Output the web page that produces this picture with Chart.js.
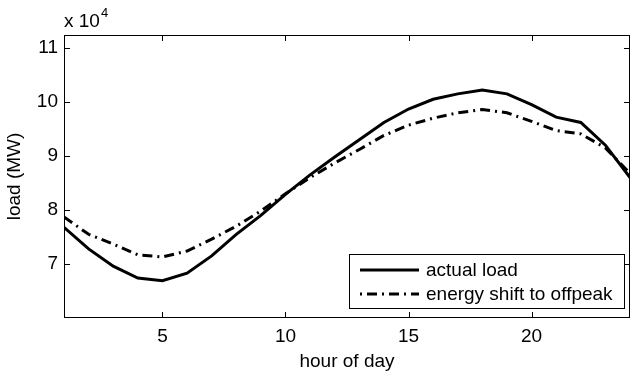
<!DOCTYPE html>
<html>
<head>
<meta charset="utf-8">
<script src="https://cdn.jsdelivr.net/npm/chart.js@4"></script>
<style>
  html, body { margin: 0; padding: 0; background: #fff; }
  #wrap { width: 631px; height: 373px; }
</style>
</head>
<body>
<div id="wrap"><canvas id="loadChart" width="631" height="373"></canvas></div>
<script>
// Data (load in MW)
const hours = [1,2,3,4,5,6,7,8,9,10,11,12,13,14,15,16,17,18,19,20,21,22,23,24];
const actualLoad = [76800,72800,69600,67400,66900,68300,71500,75500,79000,82900,86500,89800,93000,96200,98700,100500,101500,102200,101500,99500,97200,96200,92000,86000];
const shiftedLoad = [78700,75500,73700,71700,71300,72400,74600,77000,79800,83000,86000,88700,91200,93800,95700,97000,98000,98600,98000,96400,94700,94100,91500,86800];
const xTicks = [5, 10, 15, 20];
const yTicks = [70000, 80000, 90000, 100000, 110000];
const seriesNames = ['actual load', 'energy shift to offpeak'];

const FONT = 'Liberation Sans, Arial, Helvetica, sans-serif';
const DASHDOT = [10, 5, 2, 5];

// MATLAB-like frame: box, inner ticks, exponent label, legend box
const matlabFrame = {
    id: 'matlabFrame',
    afterDraw(chart) {
        const ctx = chart.ctx;
        const a = chart.chartArea;
        const xs = chart.scales.x, ys = chart.scales.y;
        ctx.save();
        ctx.strokeStyle = '#000';
        ctx.lineWidth = 1;
        ctx.strokeRect(a.left + 0.5, a.top + 0.5, a.right - a.left - 1, a.bottom - a.top - 1);
        ctx.beginPath();
        xTicks.forEach(v => {
            const px = Math.round(xs.getPixelForValue(v)) + 0.5;
            ctx.moveTo(px, a.bottom); ctx.lineTo(px, a.bottom - 6);
            ctx.moveTo(px, a.top); ctx.lineTo(px, a.top + 6);
        });
        yTicks.forEach(v => {
            const py = Math.round(ys.getPixelForValue(v)) + 0.5;
            ctx.moveTo(a.left, py); ctx.lineTo(a.left + 6, py);
            ctx.moveTo(a.right, py); ctx.lineTo(a.right - 6, py);
        });
        ctx.stroke();

        // exponent label
        ctx.fillStyle = '#000';
        ctx.textBaseline = 'alphabetic';
        ctx.textAlign = 'left';
        ctx.font = '19px ' + FONT;
        ctx.fillText('x 10', a.left, a.top - 8);
        const w = ctx.measureText('x 10').width;
        ctx.font = '13px ' + FONT;
        ctx.fillText('4', a.left + w + 1, a.top - 18);

        // legend
        const lx = 349, ly = 254, lw = 275, lh = 54;
        ctx.fillStyle = '#fff';
        ctx.fillRect(lx, ly, lw, lh);
        ctx.lineWidth = 1;
        ctx.strokeStyle = '#000';
        ctx.strokeRect(lx + 0.5, ly + 0.5, lw, lh);
        const rows = [ly + 16, ly + 40];
        chart.data.datasets.forEach((ds, i) => {
            ctx.beginPath();
            ctx.lineWidth = 3;
            ctx.setLineDash(ds.borderDash || []);
            ctx.lineDashOffset = i === 1 ? 15 : 0;
            ctx.moveTo(lx + 11, rows[i]);
            ctx.lineTo(lx + 70, rows[i]);
            ctx.stroke();
            ctx.setLineDash([]);
            ctx.fillStyle = '#000';
            ctx.font = '19px ' + FONT;
            ctx.textBaseline = 'middle';
            ctx.fillText(seriesNames[i], lx + 77, rows[i] + 1);
        });
        ctx.restore();
    }
};

function initChart() {
    const ctx = document.getElementById('loadChart').getContext('2d');
    new Chart(ctx, {
        type: 'line',
        data: {
            labels: hours,
            datasets: [{
                label: seriesNames[0],
                data: hours.map((h, i) => ({ x: h, y: actualLoad[i] })),
                borderColor: '#000',
                borderWidth: 3,
                pointRadius: 0,
                tension: 0
            }, {
                label: seriesNames[1],
                data: hours.map((h, i) => ({ x: h, y: shiftedLoad[i] })),
                borderColor: '#000',
                borderWidth: 3,
                borderDash: DASHDOT,
                pointRadius: 0,
                tension: 0
            }]
        },
        options: {
            responsive: false,
            animation: false,
            layout: { padding: { top: 35, right: 1, left: 0, bottom: 0 } },
            plugins: { legend: { display: false }, tooltip: { enabled: false } },
            scales: {
                x: {
                    type: 'linear',
                    min: 1, max: 24,
                    grid: { display: false, drawTicks: false },
                    border: { display: false },
                    afterBuildTicks: s => { s.ticks = xTicks.map(v => ({ value: v })); },
                    afterFit: s => { s.height = 55; },
                    ticks: { color: '#000', font: { family: FONT, size: 19 }, padding: 7, maxRotation: 0 },
                    title: { display: true, text: 'hour of day', color: '#000', font: { family: FONT, size: 19 }, padding: { top: 0, bottom: 0 } }
                },
                y: {
                    min: 60000, max: 112400,
                    grid: { display: false, drawTicks: false },
                    border: { display: false },
                    afterBuildTicks: s => { s.ticks = yTicks.map(v => ({ value: v })); },
                    afterFit: s => { s.width = 64; },
                    ticks: { color: '#000', font: { family: FONT, size: 19 }, padding: 6, callback: v => String(v / 10000) },
                    title: { display: true, text: 'load (MW)', color: '#000', font: { family: FONT, size: 19 }, padding: { top: 3, bottom: 0 } }
                }
            }
        },
        plugins: [matlabFrame]
    });
}

document.addEventListener('DOMContentLoaded', initChart);
</script>
</body>
</html>
